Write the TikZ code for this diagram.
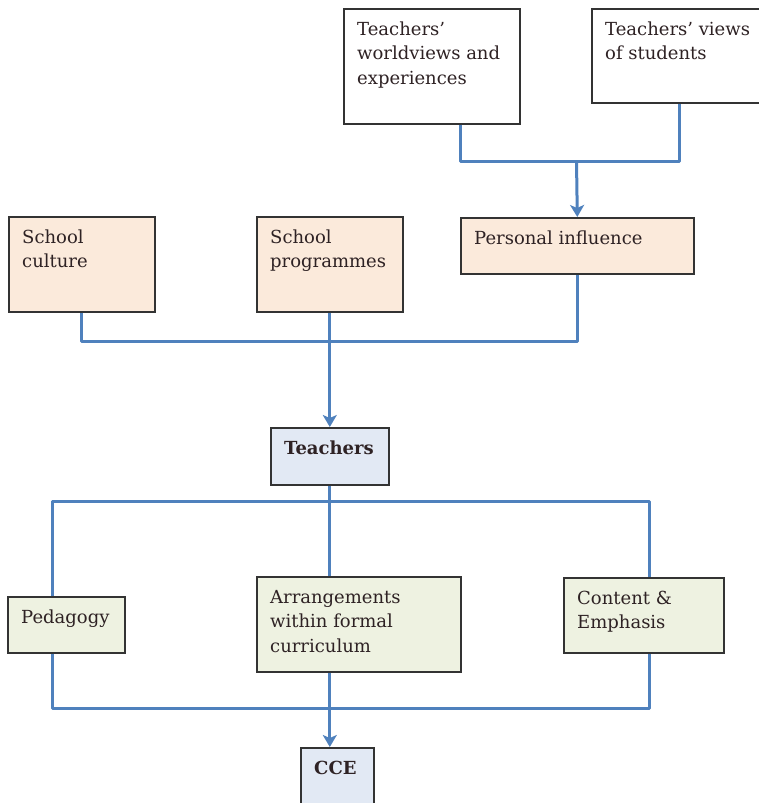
\documentclass[tikz,border=0pt]{standalone}
\usepackage{fontspec}
\setmainfont{DejaVu Serif}
\usetikzlibrary{arrows.meta}

\definecolor{linkblue}{HTML}{4F81BD}
\definecolor{boxline}{HTML}{333333}
\definecolor{inkbrown}{HTML}{2E2224}
\definecolor{peach}{HTML}{FBEADB}
\definecolor{paleblue}{HTML}{E2E9F4}
\definecolor{palegreen}{HTML}{EEF2E1}

% box: name, style, x, y (top left), width, height, text
\newcommand\flowbox[7]{%
  \node[#2, anchor=north west, minimum width=#5pt, minimum height=#6pt] (#1) at (#3,#4) {};
  \node[boxtext, anchor=north west] (#1-text) at ([xshift=14pt,yshift=-13pt]#1.north west)
    {\rule{0pt}{14pt}#7};%
}

\tikzset{
  plainbox/.style={draw=boxline, line width=1.6pt, fill=white, inner sep=0pt},
  schoolbox/.style={plainbox, fill=peach},
  teachbox/.style={plainbox, fill=paleblue},
  practbox/.style={plainbox, fill=palegreen},
  boxtext/.style={inner sep=0pt, align=left, text=inkbrown,
    font=\fontsize{18}{24.5}\selectfont},
  conn/.style={draw=linkblue, line width=3pt, line join=round},
  tip/.style={-{Stealth[width=14pt,length=12pt,inset=3pt]}},
}

\begin{document}
\begin{tikzpicture}[x=1pt,y=-1pt]
\useasboundingbox (0,0) rectangle (759,803);

% sources of personal influence
\flowbox{tw}{plainbox}{343}{8}{176}{115}{Teachers’\\worldviews and\\experiences}
\flowbox{tv}{plainbox}{591}{8}{171}{94}{Teachers’ views\\of students}

% influences on teachers
\flowbox{sc}{schoolbox}{8}{216}{146}{95}{School\\culture}
\flowbox{sp}{schoolbox}{256}{216}{146}{95}{School\\programmes}
\flowbox{pi}{schoolbox}{460}{217}{233}{56}{Personal influence}

% teachers
\flowbox{te}{teachbox}{270}{427}{118}{57}{\bfseries Teachers}

% practices
\flowbox{pe}{practbox}{7}{596}{117}{56}{Pedagogy}
\flowbox{ar}{practbox}{256}{576}{204}{95}{Arrangements\\within formal\\curriculum}
\flowbox{ct}{practbox}{563}{577}{160}{75}{Content \&\\Emphasis}

% outcome
\flowbox{cce}{teachbox}{300}{747}{73}{70}{\bfseries CCE}

% junction points
\coordinate (j1) at (576.5,161);
\coordinate (j2) at (329,341);
\coordinate (j3) at (329,501);
\coordinate (j4) at (329,708);

% top: worldviews and views of students feed personal influence
\draw[conn] ([xshift=29pt]tw.south) |- (j1) -| ([xshift=2.5pt]tv.south);
\draw[conn, tip] (j1) -- (pi.north);

% middle: school culture, programmes and personal influence feed teachers
\draw[conn] (sc.south) |- (j2) -| (pi.south);
\draw[conn, tip] (sp.south) -- (te.north);

% bottom: teachers shape practices, which lead to CCE
\draw[conn] (te.south) -- (te.south |- ar.north);
\draw[conn] ([xshift=-13.5pt]pe.north) |- (j3) -| ([xshift=6pt]ct.north);
\draw[conn] ([xshift=-13.5pt]pe.south) |- (j4) -| ([xshift=6pt]ct.south);
\draw[conn, tip] (te.south |- ar.south) -- (te.south |- cce.north);
\end{tikzpicture}
\end{document}
